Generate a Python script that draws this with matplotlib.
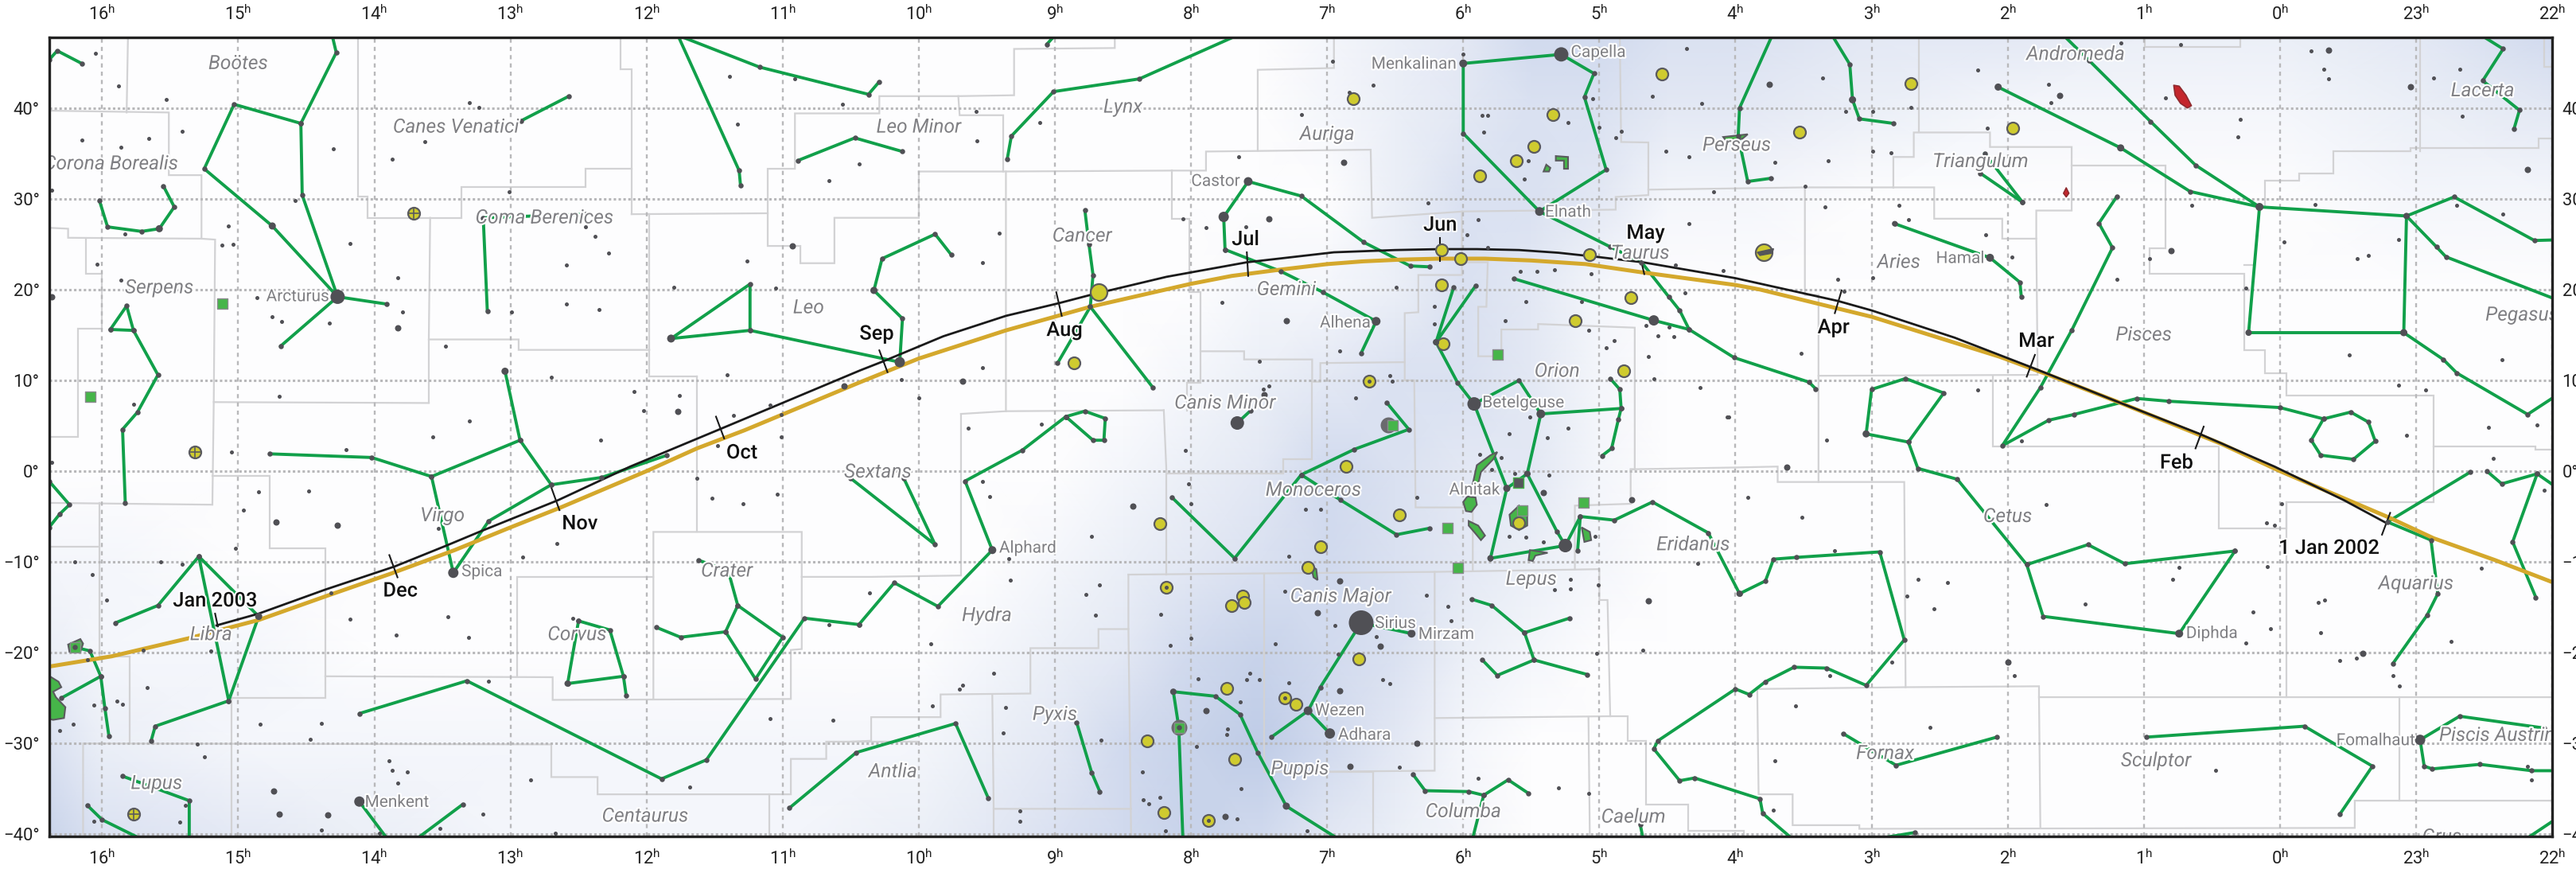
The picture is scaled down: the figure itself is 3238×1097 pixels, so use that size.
import matplotlib
matplotlib.use("Agg")
import matplotlib.pyplot as plt
import matplotlib.patheffects as pe
from matplotlib.colors import LinearSegmentedColormap
from matplotlib.patches import Polygon

plt.rcParams['font.family'] = ['Roboto', 'DejaVu Sans']
plt.rcParams['mathtext.fontset'] = 'custom'
plt.rcParams['mathtext.rm'] = 'Roboto'

# all positions are (RA hours, Dec degrees), RA below 0 means 23h, 22h
hour_ticks = [16, 15, 14, 13, 12, 11, 10, 9, 8, 7, 6, 5, 4, 3, 2, 1, 0, -1, -2]
hour_labels = ['16', '15', '14', '13', '12', '11', '10', '9', '8', '7', '6', '5', '4', '3', '2', '1', '0', '23', '22']
dec_ticks = [40, 30, 20, 10, 0, -10, -20, -30, -40]

# milky way brightness, coarse reading of the background
glow_ra = [16.39, 16, 15, 14, 13, 12, 11, 10, 9.5, 9, 8.5, 8, 7.5, 7, 6.5, 6, 5.5, 5, 4.5, 4, 3, 2, 1, 0, -1, -2]
glow_dec = [48, 40, 30, 20, 10, 0, -10, -20, -30, -41]
glow = [
    [0, 0, 0, 0, 0, 0, 0, 0, 0, 0, 0, 0, 0, 1, 2, 3, 5, 5, 4, 4, 3, 3, 2, 2, 3, 5],
    [0, 0, 0, 0, 0, 0, 0, 0, 0, 0, 0, 0, 0, 1, 2, 3, 4, 4, 3, 3, 2, 1, 1, 1, 2, 3],
    [0, 0, 0, 0, 0, 0, 0, 0, 0, 0, 0, 0, 0, 0, 2, 4, 4, 3, 1, 1, 0, 0, 0, 0, 1, 1],
    [0, 0, 0, 0, 0, 0, 0, 0, 0, 0, 0, 0, 1, 1, 2, 4, 3, 1, 0, 0, 0, 0, 0, 0, 0, 0],
    [0, 0, 0, 0, 0, 0, 0, 0, 0, 0, 0, 1, 2, 3, 4, 4, 3, 1, 0, 0, 0, 0, 0, 0, 0, 0],
    [0, 0, 0, 0, 0, 0, 0, 0, 0, 0, 1, 2, 3, 5, 4, 3, 3, 1, 0, 0, 0, 0, 0, 0, 0, 0],
    [1, 1, 0, 0, 0, 0, 0, 0, 0, 1, 2, 3, 4, 5, 4, 3, 2, 1, 0, 0, 0, 0, 0, 0, 0, 0],
    [2, 1, 1, 0, 0, 0, 0, 0, 1, 2, 3, 5, 6, 5, 4, 2, 1, 0, 0, 0, 0, 0, 0, 0, 0, 0],
    [4, 2, 1, 1, 1, 1, 1, 1, 2, 3, 5, 6, 7, 5, 3, 1, 0, 0, 0, 0, 0, 0, 0, 0, 0, 0],
    [6, 4, 3, 2, 1, 1, 1, 2, 3, 4, 5, 6, 5, 3, 2, 1, 0, 0, 0, 0, 0, 0, 0, 0, 0, 0],
]

# constellation figures
hercules = [[(16.39, 45.3), (16.33, 46.3), (16.15, 44.9)]]
bootes = [[(14.31, 48), (14.28, 46.1), (14.54, 38.3), (14.53, 30.4), (14.27, 19.2), (14.75, 27.0), (15.25, 33.3), (15.03, 40.4), (14.54, 38.3)],
          [(14.27, 19.2), (13.91, 18.4)], [(14.27, 19.2), (14.69, 13.75)]]
canes = [[(12.57, 41.3), (12.92, 38.6)]]
ursa_major = [[(11.77, 48), (11.17, 44.5), (10.37, 41.5), (10.29, 42.9)], [(11.77, 48), (11.32, 33.1), (11.31, 31.5)]]
leo_minor = [[(10.89, 34.2), (10.47, 36.7), (10.12, 35.2)]]
corona = [[(16.02, 29.8), (15.96, 26.9), (15.71, 26.4), (15.58, 26.7), (15.47, 29.1), (15.55, 31.4)]]
coma = [[(13.17, 17.6), (13.2, 27.9), (12.45, 28.3)]]
serpens = [[(15.94, 15.6), (15.82, 18.2), (15.77, 15.5), (15.94, 15.6)],
           [(15.77, 15.5), (15.59, 10.6), (15.74, 6.5), (15.85, 4.6), (15.83, -3.5)]]
leo = [[(11.82, 14.6), (11.24, 20.6), (11.24, 15.5), (11.82, 14.6)], [(11.24, 15.5), (10.14, 12.0)],
       [(10.14, 12.0), (10.12, 16.8), (10.33, 19.9), (10.27, 23.4), (9.88, 26.1), (9.76, 23.8)]]
virgo = [[(13.04, 11.0), (12.93, 3.4), (12.7, -1.5), (12.33, -0.7), (11.85, 1.75)],
         [(12.93, 3.4), (13.58, -0.6), (14.02, 1.5), (14.77, 1.9)], [(13.58, -0.6), (13.42, -11.2)],
         [(12.7, -1.5), (13.16, -5.5), (13.42, -11.2)]]
libra = [[(15.9, -16.7), (15.59, -14.8), (15.29, -9.4), (14.85, -16.0), (15.07, -25.3), (15.29, -9.4)],
         [(15.07, -25.3), (15.61, -28.1), (15.64, -29.7)]]
ophiuchus = [[(16.39, -1.1), (16.24, -3.7), (16.31, -4.7), (16.39, -6.2)]]
scorpius = [[(16.2, -19.4), (16.09, -19.8), (16.01, -22.6), (15.98, -26.1), (15.95, -29.2)], [(16.01, -22.6), (16.3, -25)]]
lupus = [[(15.85, -33.6), (15.36, -36.3), (15.36, -40.4)], [(16.11, -36.8), (16.0, -38.4), (15.73, -40.4)]]
centaurus = [[(14.11, -26.7), (13.32, -23.1), (11.89, -33.9), (11.56, -31.8), (10.84, -16.2), (10.44, -16.9)],
             [(14.11, -36.4), (13.91, -40.4)], [(13.35, -36.7), (13.68, -40.4)]]
hydra = [[(10.44, -16.9), (10.18, -12.3), (9.86, -14.9), (9.46, -8.7), (9.66, -1.1), (9.24, 2.3), (8.92, 6.0)],
         [(8.92, 6.0), (8.72, 3.4), (8.64, 3.4), (8.63, 5.8), (8.78, 6.6), (8.92, 6.0)]]
corvus = [[(12.5, -16.5), (12.27, -17.5), (12.17, -22.6), (12.58, -23.4), (12.5, -16.5)], [(12.17, -22.6), (12.15, -24.7)]]
crater = [[(11.62, -9.8), (11.4, -11), (11.33, -14.8), (11.42, -17.7), (11.2, -22.9), (11.0, -18.3), (11.33, -14.8)],
          [(11.42, -17.7), (11.75, -18.3), (11.93, -17.2)]]
antlia = [[(10.95, -37.1), (10.46, -31), (9.73, -27.8), (9.49, -36)]]
sextans = [[(10.5, -0.8), (9.88, -8.1), (10.11, -0.8)]]
lynx = [[(9.35, 34.4), (9.32, 36.9), (9.01, 41.8), (8.38, 43.2), (7.66, 48)], [(9.06, 47), (9.0, 48)]]
gemini = [[(7.75, 24.4), (7.76, 28.0), (7.58, 31.9), (7.19, 30.3), (6.73, 25.2), (6.39, 22.6), (6.25, 22.5)],
          [(7.75, 24.4), (7.34, 22.0), (7.03, 19.7), (6.64, 16.5), (6.75, 13.0)]]
cancer = [[(8.78, 28.75), (8.75, 25), (8.72, 21.6), (8.74, 18.1), (8.98, 11.9)], [(8.74, 18.1), (8.28, 9.2)]]
auriga = [[(6.0, 44.9), (5.28, 45.9), (5.04, 43.8), (5.11, 41.2), (4.95, 33.2), (5.44, 28.6), (6.0, 37.2), (6.0, 44.9)]]
taurus = [[(5.44, 28.6), (4.92, 24.7), (4.69, 23.0), (4.49, 19.2), (4.41, 17.7), (4.34, 15.6), (4.01, 12.5), (3.46, 9.8), (3.41, 9.06)],
          [(5.63, 21.2), (4.6, 16.6), (4.34, 15.6)]]
orion = [[(6.07, 20.25), (6.2, 14.2), (5.91, 20.4)], [(6.2, 14.2), (6.04, 9.7), (5.92, 7.4), (5.59, 10.0), (5.43, 6.3), (4.84, 6.9)],
         [(5.92, 7.4), (5.68, -1.9), (5.8, -9.6), (5.25, -8.2), (5.31, -6.7), (5.53, -0.3), (5.43, 6.3)], [(5.68, -1.9), (5.53, -0.3)],
         [(4.92, 10.2), (4.85, 9.0), (4.84, 6.9), (4.86, 5.7), (4.91, 2.5), (4.98, 1.7)]]
canis_minor = [[(7.66, 5.3), (7.56, 6.7)]]
monoceros = [[(6.56, 7.5), (6.4, 4.6), (6.8, 2.4), (7.19, -0.4), (7.68, -9.6), (8.14, -2.9)],
             [(7.19, -0.4), (6.9, -3.2), (6.49, -7.0), (6.25, -6.3)]]
canis_major = [[(6.38, -17.9), (6.75, -16.7), (7.05, -23.8), (7.14, -26.4), (6.98, -28.9)], [(7.14, -26.4), (7.41, -29.3)]]
puppis = [[(8.06, -40.4), (8.09, -28.2), (8.13, -24.3), (7.82, -24.8), (7.64, -26.8), (7.51, -31), (7.3, -36.9), (6.93, -40.4)]]
pyxis = [[(8.84, -27.7), (8.73, -33.2), (8.67, -35.3)]]
lepus = [[(5.94, -14.1), (5.79, -14.8), (5.55, -17.8), (5.22, -16.2)], [(5.55, -17.8), (5.48, -20.8), (5.75, -22.5), (5.86, -20.8)], [(5.48, -20.8), (5.09, -22.4)]]
columba = [[(6.37, -33.4), (6.28, -35.2), (5.96, -35.3), (5.85, -35.7), (5.67, -34), (5.52, -35.5)], [(5.85, -35.7), (5.93, -40.4)]]
caelum = [[(4.7, -38.9), (4.68, -40.4)]]
eridanus = [[(5.25, -8.2), (5.14, -5.0), (4.89, -5.4), (4.61, -3.4), (4.2, -6.8), (3.97, -13.5), (3.78, -12.1), (3.72, -9.7), (3.55, -9.5), (2.94, -8.9),
             (2.76, -18.6), (3.04, -23.6), (3.33, -21.7), (3.57, -21.6), (3.78, -23.2), (3.9, -24.6), (4.0, -24), (4.57, -29.7), (4.6, -30.6),
             (4.41, -34.1), (4.3, -33.8), (3.82, -36.1), (3.8, -37.7), (3.59, -40.4)],
            [(5.14, -5.0), (5.16, -8.8)], [(2.92, -40.4), (2.68, -39.8)]]
fornax = [[(3.21, -28.9), (2.82, -32.4), (2.08, -29.3)]]
sculptor = [[(0.98, -29.3), (-0.18, -28.1), (-0.68, -32.5), (-0.44, -37.8)]]
cetus = [[(0.33, -8.8), (1.14, -10.2), (1.41, -8.1), (1.86, -10.3), (1.74, -16.0), (0.74, -17.9), (0.33, -8.8)],
         [(1.86, -10.3), (2.37, -0.9), (2.66, 0.3), (2.73, 3.2), (3.04, 4.1), (3.0, 9.0), (2.75, 10.2), (2.47, 8.6), (2.73, 3.2)]]
pisces = [[(1.2, 30.2), (1.33, 27.3), (1.23, 24.6), (1.53, 15.5), (1.76, 9.2), (2.04, 2.8), (1.7, 5.6), (1.51, 6.25), (1.05, 8.0), (0.82, 7.7), (0.0, 7.0),
           (-0.32, 5.75), (-0.52, 6.5), (-0.65, 5.4), (-0.7, 3.3), (-0.54, 1.3), (-0.3, 1.75), (-0.23, 3.4), (-0.32, 5.75)]]
triangulum = [[(1.89, 29.6), (2.2, 32.8)], [(1.89, 29.6), (2.17, 35)]]
aries = [[(2.83, 27.25), (2.13, 23.5), (1.91, 20.8), (1.9, 19.2)]]
andromeda = [[(1.59, 48), (1.4, 45.2), (0.95, 38.5), (0.62, 33.7), (0.15, 29.1), (0.66, 30.8), (1.17, 35.6), (2.07, 42.3)]]
pegasus = [[(0.15, 29.1), (-0.93, 28.1), (-0.91, 15.25), (0.23, 15.25), (0.15, 29.1)], [(-0.93, 28.1), (-1.28, 30.2), (-1.87, 25.4), (-2.1, 25.5)],
           [(-0.93, 28.1), (-1.15, 24.7), (-1.22, 23.6), (-2.1, 18.5)], [(-0.91, 15.25), (-1.2, 12.3), (-1.3, 10.8), (-1.82, 6.25), (-2.1, 9)]]
lacerta = [[(-1.48, 48), (-1.64, 46.5), (-1.49, 43), (-1.76, 39.75), (-1.72, 37.7)]]
perseus = [[(3.73, 48), (3.97, 40), (3.98, 36.9), (3.91, 31.9), (3.74, 32.25)], [(3.29, 48), (3.16, 44.8), (3.14, 40.9), (3.09, 38.8), (2.84, 38.3)]]
aquarius = [[(-1.4, -0.1), (-0.79, -5.6), (-1.11, -7.6), (-1.16, -13.5), (-1.08, -15.9), (-0.83, -21.2)],
            [(-1.52, 0), (-1.63, -1.4), (-1.89, -0.3), (-1.71, -7.8), (-1.88, -13.9)], [(-1.89, -0.3), (-2.1, -2.5)]]
piscis = [[(-1.94, -28.3), (-1.32, -27), (-1.03, -29.6), (-1.06, -32.5), (-1.12, -32.8), (-1.47, -32.3), (-1.85, -33), (-2.1, -33)]]
grus = [[(-1.82, -40.4), (-2.1, -37.6)]]

figures = [hercules, bootes, canes, ursa_major, leo_minor, corona, coma, serpens, leo, virgo, libra, ophiuchus, scorpius,
           lupus, centaurus, hydra, corvus, crater, antlia, sextans, lynx, gemini, cancer, auriga, taurus, orion, canis_minor,
           monoceros, canis_major, puppis, pyxis, lepus, columba, caelum, eridanus, fornax, sculptor, cetus, pisces, triangulum,
           aries, andromeda, pegasus, lacerta, perseus, aquarius, piscis, grus]

# constellation boundaries
borders_west = [
    [(15.81, 48), (15.82, 39.5)],
    [(16.39, 39.7), (15.51, 39.5), (15.51, 32.6), (15.27, 32.6), (15.27, 25.6), (16.25, 25.7), (16.25, 26.7), (16.39, 26.8)],
    [(16.12, 25.6), (16.12, 21.7), (16, 21.7), (16, 15.7), (16.18, 15.7), (16.18, 3.75), (16.39, 3.75)],
    [(15.27, 25.6), (15.17, 25.5), (15.18, 7.6), (13.6, 7.5)],
    [(15.18, 7.6), (15.19, -3.7), (16.39, -3.5)],
    [(15.19, -0.5), (14.77, -0.5), (14.77, -8.5), (14.36, -8.5), (14.36, -25), (15.05, -25)],
    [(14.36, -22.6), (12.69, -22.7), (12.69, -25.2), (10.94, -25.1), (10.94, -19.7), (10.86, -19.6), (10.86, -6.7), (11.95, -6.7), (11.95, -25.1)],
    [(12.95, -22.6), (12.95, -11.65), (11.95, -11.65)],
    [(10.86, -11.65), (10.35, -11.65), (9.69, -11.5), (9.69, 6.3)],
    [(11.63, 10.4), (11.98, 10.4), (11.98, 28.3)],
    [(11.63, 10.4), (11.63, -6.7)],
    [(12.11, 28.3), (11.11, 28.4), (11.11, 24.8), (10.87, 24.8), (10.87, 22.9), (10.62, 22.9), (10.62, 27.9), (10.0, 27.9), (10.0, 33)],
    [(12.19, 48), (12.19, 44.3), (12.11, 44.3), (12.11, 28.3)],
    [(11.11, 28.4), (11.11, 33.3), (10.91, 33.3), (10.91, 39.4), (10.29, 39.4), (10.29, 41.3), (9.71, 41.3), (9.3, 41.4), (9.3, 46.5), (8.56, 46.6), (8.56, 48)],
    [(9.71, 41.3), (9.7, 39.2), (9.38, 39.2), (9.38, 33), (10.0, 33)],
    [(14.12, 48), (14.12, 30.2), (14.05, 30.2), (14.05, 27.9), (13.36, 27.9), (13.36, 31.3), (12.45, 31.3), (12.45, 33.3), (12.11, 33.3)],
    [(13.59, 27.9), (13.6, 14.5), (12.94, 14.5), (12.94, 13.35), (11.98, 13.35)],
    [(13.6, 14.5), (13.6, 7.5)],
    [(15.8, -20.4), (15.8, -29.9)], [(16.02, -3.5), (16.02, -20.4), (15.8, -20.4)], [(16.39, -8.3), (16.02, -8.3)],
    [(15.05, -25), (15.05, -40.4)],
    [(10.0, -29.8), (10.68, -29.8), (10.68, -31.7), (10.94, -31.7), (10.94, -35.6), (12.36, -35.6), (12.36, -33.7), (12.7, -33.7), (12.7, -30.1), (16.14, -30), (16.14, -40.4)],
    [(11.1, -35.6), (11.1, -40.4)],
]
borders_mid = [
    [(9.38, 33), (8.14, 33.1), (7.89, 33.1), (7.89, 35.2), (6.68, 35.4), (6.67, 27.9), (6.0, 28.6), (4.88, 28.8), (4.88, 30.2), (4.64, 30.4), (4.64, 36.2), (4.84, 36.25), (4.85, 48)],
    [(7.51, 35.3), (7.51, 44.2), (6.95, 44.4), (6.95, 48)],
    [(6.01, 28.6), (6.01, 21.6), (6.33, 21.6), (6.33, 17.5), (6.43, 17.4), (6.43, 10), (6.36, 10), (6.35, -4), (5.98, -4), (5.93, -3.8), (5.93, -10.9)],
    [(6.01, 23), (5.82, 23), (5.83, 18.1), (5.89, 18.1), (5.89, 12.65), (5.72, 12.65), (5.72, 15.6), (5.45, 15.6), (5.45, 16.2), (4.74, 15.8), (4.74, 0.2), (4.77, 0.2), (4.77, -3.6), (5.18, -3.8), (5.18, -10.8)],
    [(4.77, 0.2), (4.0, 0.4), (3.69, 0.5), (3.69, -1.2), (3.39, -1.2)],
    [(8.46, -11.4), (6.21, -11.1), (5.0, -10.8), (5.0, -14.2), (4.94, -14.2), (4.92, -27), (6.21, -27.2)],
    [(6.21, -11.1), (6.21, -33), (6.99, -33.1)],
    [(8.46, -11.4), (8.46, -17.4), (8.68, -17.4), (8.68, -19.5), (9.18, -19.5), (9.18, -24.5), (9.84, -24.6), (9.84, -27.1), (10.35, -27.1), (10.35, -29.7), (10.5, -29.8)],
    [(9.46, -24.6), (9.45, -37.2), (8.44, -37.2)], [(9.45, -37.2), (9.45, -40.4)], [(8.46, -17.4), (8.44, -40.4)],
    [(7.46, -11.3), (7.46, -33.1), (6.99, -33.1)],
    [(8.18, -11.4), (8.18, -0.3), (7.32, -0.3), (7.32, 1.3), (7.11, 1.3), (7.11, 9.85)],
    [(9.36, 33), (9.36, 6.6), (8.2, 6.7)], [(9.69, 6.3), (9.36, 6.6)], [(8.2, 6.7), (8.18, -0.3)],
    [(8.14, 33.1), (8.14, 27.8), (8.01, 27.8), (8.01, 19.7), (7.93, 19.7), (7.93, 9.7), (8.03, 9.7), (8.03, 6.7)],
    [(7.93, 13.2), (7.61, 13.2), (7.61, 12.3), (7.11, 12.3), (7.11, 9.85), (7.05, 9.85), (7.05, 11.9), (6.43, 12.0)],
    [(6.99, -33.1), (6.66, -33.1), (6.66, -40.4)], [(5.08, -27.1), (5.07, -40.4)],
    [(4.92, -27), (4.79, -27), (4.79, -29.7), (4.66, -29.7), (4.66, -36.7), (4.35, -36.7), (4.35, -39.6), (3.94, -39.6), (3.94, -40.4)],
]
borders_east = [
    [(4.64, 31), (3.5, 31.25), (2.54, 31.25), (2.54, 27.8), (2.04, 27.8), (2.04, 25.6), (1.79, 25.6), (1.79, 28.7), (1.53, 28.7), (1.53, 35.7), (2.13, 35.7), (2.13, 37.3), (2.69, 37.3), (2.69, 34.6), (2.84, 34.6), (2.84, 31.25)],
    [(2.65, 48), (2.65, 37.3)],
    [(1.53, 33.65), (0.84, 33.65), (0.84, 24.5), (0.96, 24.5), (0.96, 21.7), (0.26, 21.7), (0.26, 13.3), (0.11, 13.3), (0.11, 10.8), (-0.05, 10.8), (-0.05, 8.3), (-1.13, 8.3), (-1.13, -3.4), (-0.05, -3.4), (-0.05, -6.3), (0.45, -6.3), (0.45, 2.7), (2.11, 2.7), (2.11, 10.5)],
    [(0.26, 22.7), (0.2, 22.7)],
    [(3.39, 10.5), (1.78, 10.6), (1.79, 25.6)],
    [(3.49, 31.25), (3.49, 19.4), (3.39, 19.4), (3.39, -1.2), (2.76, -1.2), (2.75, -23.8), (3.84, -24), (3.83, -35.6), (3.58, -35.6), (3.58, -39), (3.09, -39), (3.09, -39.4), (-0.55, -39.3), (-0.55, -36.3), (-2.1, -36.3)],
    [(2.75, -23.8), (1.77, -23.7), (1.77, -24.9), (-2.1, -24.9)], [(1.77, -24.9), (1.76, -39.3)],
    [(-0.05, -3.4), (-0.05, -24.9)], [(-0.88, -24.9), (-0.88, -36.3)],
    [(-1.13, 2.7), (-1.88, 2.7), (-1.88, 2.4), (-2.1, 2.4)],
    [(-1.03, 48), (-1.03, 35.2)],
    [(-2.1, 36.6), (-1.9, 36.6), (-1.9, 35.6), (-0.96, 35.6), (-0.96, 35.2), (-0.39, 35.2), (-0.39, 32.8), (-0.14, 32.8), (-0.14, 32), (0.11, 32), (0.11, 29)],
    [(0.99, 48), (0.99, 46.7), (0.29, 46.7), (0.29, 48)],
    [(-1.94, 48), (-1.94, 44.5), (-2.1, 44.5)],
]
borders = borders_west + borders_mid + borders_east

ecliptic = [(16.5, -21.8), (15.93, -20.4), (15.36, -18.4), (14.85, -16.4), (14.36, -13.8), (13.88, -11.3), (13.41, -8.7), (13.0, -6.2), (12.63, -4), (12.0, 0), (11.63, 2.5),
            (11.28, 4.5), (10.43, 9.8), (10.0, 12.4), (9.36, 15.5), (8.74, 18.1), (8.01, 20.6), (7.7, 21.5), (7.34, 22.2), (7.0, 22.8), (6.74, 23.1), (6.45, 23.3), (6.17, 23.4), (5.84, 23.4), (5.5, 23.2), (5.1, 22.8), (4.69, 21.9),
            (4.0, 20.5), (3.82, 20), (3.0, 17), (2.06, 12.6), (1.7, 10.6), (1.17, 7.5), (0.43, 3), (0, 0), (-0.8, -5.1), (-1.13, -7.4), (-1.58, -9.8), (-2.1, -12.8)]
comet_path = [(15.16, -17), (14.85, -15.7), (14.36, -13.05), (13.85, -10.5), (13.47, -8.2), (13.23, -6.7), (12.65, -3.2), (12.12, 0.5), (11.48, 4.5), (10.43, 11.1), (10.26, 12.1),
              (9.82, 14.85), (9.36, 17.1), (8.97, 18.5), (8.74, 19.4), (8.18, 21.4), (7.59, 23), (6.95, 24.1), (6.5, 24.35), (6.17, 24.45), (5.9, 24.45), (5.59, 24.35), (5.3, 24.05), (5.02, 23.6), (4.68, 23), (4.0, 21.25),
              (3.25, 18.75), (3.0, 17.7), (2.39, 14.7), (1.82, 11.4), (1.17, 7.5), (0.59, 4.1), (0.04, 0.5), (-0.47, -3.2), (-0.78, -5.7)]

month_names = ['1 Jan 2002', 'Feb', 'Mar', 'Apr', 'May', 'Jun', 'Jul', 'Aug', 'Sep', 'Oct', 'Nov', 'Dec', 'Jan 2003']
month_ticks = [((-0.81, -4.6), (-0.75, -7)), ((0.56, 4.9), (0.62, 2.5)), ((1.8, 12.8), (1.86, 10.4)), ((3.22, 19.9), (3.27, 17.4)),
               ((4.7, 23.6), (4.67, 21.7)), ((6.17, 25.7), (6.17, 23.1)), ((7.59, 24.1), (7.58, 21.5)), ((8.99, 19.7), (8.95, 17.1)),
               ((10.29, 13.3), (10.23, 10.9)), ((11.49, 6), (11.43, 3.6)), ((12.7, -1.8), (12.64, -4.3)), ((13.89, -9.25), (13.83, -11.7)),
               ((15.17, -15.7), (15.15, -17.1))]
month_label_pos = [(-0.36, -8.5), (0.76, 0.9), (1.79, 14.3), (3.28, 15.8), (4.66, 26.2), (6.17, 27.1), (7.6, 25.5), (8.93, 15.5),
                   (10.31, 15.1), (11.3, 2), (12.49, -5.8), (13.81, -13.2), (15.17, -14.3)]

# loose stars, smallest class
faint_west = [(16.05, 46), (15.88, 42.4), (15.53, 40.9), (15.41, 37.4), (16.15, 36.5), (15.66, 36.6), (15.86, 35.7), (16.37, 30.9), (15.83, 26.1), (15.07, 27), (15.04, 25), (15.12, 24.9),
              (16.04, 22.8), (15.86, 21), (14.86, 19.1), (14.75, 17), (14.68, 16.5), (14.33, 16.3), (14.3, 35.5), (14.58, 29.8), (14.18, 25.1), (13.83, 21.3), (13.79, 17.5), (13.87, 34.4),
              (13.63, 36.3), (13.3, 40.6), (13.23, 40.1), (13.01, 30.8), (11.39, 43.5), (10.91, 43.2), (10.56, 40.4), (11.33, 38.2), (10.44, 33.8), (10.66, 32), (11.26, 23.1), (11.8, 20.25),
              (11.05, 20.2), (12.45, 26.9), (12.38, 25.9), (12.28, 24), (12.59, 22.7), (12.59, 18.4), (12.35, 17.8), (12.99, 17.5), (13.48, 13.8), (12.7, 10.3), (11.41, 10.6), (12.09, 8.8),
              (11.76, 8.3), (12.02, 6.7), (11.36, 6.1), (11.09, 7.3), (11.01, 6.25), (11.01, 3.75), (12.34, 3.4), (13.3, 5.5), (13.57, 3.75), (15.77, 7.4), (14.7, 8.2),
              (16.37, 1), (15.05, 2.1), (14.21, 2.4), (11.48, 2.8), (11.63, -0.8), (11.52, -3), (11.29, -3.6), (11.04, -2.5), (14.85, -2.3), (14.48, -2.2), (14.96, -4.3), (13.53, -6.3), (12.66, -8),
              (12.91, -9.5), (16.2, -10), (15.57, -10), (15.41, -10.3), (16.07, -11.4), (15.02, -8.5), (15.97, -14.2), (14.32, -13.4), (14.18, -16.3), (13.46, -16), (13.84, -18.1), (13.31, -18.3),
              (12.54, -16.2), (10.36, -13.4), (10.66, -16.9), (15.2, -19.8), (15.7, -19.7), (16.11, -20.8), (15.67, -23.8), (15.89, -25.3), (15.85, -25.7), (16.06, -25.8), (13.16, -23.1),
              (16.31, -28.6), (16.21, -27.9), (14.84, -27.9), (14.39, -27.8), (14.47, -29.5), (15.3, -30.1), (15.25, -31.5), (11.09, -27.3), (10.63, -27.4), (13.89, -31.9), (13.87, -33), (13.76, -33.1),
              (13.83, -34.4), (12.85, -34), (11.68, -34.8), (13.2, -37.8), (15.39, -36.8), (16.06, -38.6), (15.43, -38.7), (14.39, -39.5), (13.52, -39.4), (13.96, -39.9), (12.67, -39.9)]
faint_mid = [(9.58, 39.6), (9.11, 38.4), (9.57, 36.4), (6.66, 42.5), (6.96, 45.1), (7.19, 39.3), (6.84, 41.7), (6, 45.9), (4.61, 41.25), (4.36, 46.5), (4.25, 40.5), (5.05, 41), (5.86, 39.2), (5.82, 39.2),
             (5.23, 38.4), (5, 37.9), (4.84, 37.4), (4.88, 36.7), (5.85, 37.3), (4.51, 35.25), (4.34, 34.6), (5.55, 32.2), (5.52, 34.2), (7.65, 34.6), (4.16, 30.75), (7.6, 26.9), (7.89, 26.8), (8.06, 27.8),
             (6.26, 29.5), (5.89, 27.7), (5.97, 26), (4.34, 27.3), (9.41, 26.2), (9.53, 23), (6.49, 20.25), (6.21, 18.1), (6.21, 16.2), (5.82, 24.6), (5.58, 22), (5.46, 22), (5.33, 22.2), (5.06, 21.7),
             (4.44, 22.7), (4.09, 22.1), (4.37, 19.6), (5.54, 18.7), (5.13, 18.7), (5.69, 16.6), (5.08, 15.5), (4.57, 14.9), (4.45, 14.8), (4.89, 14.4), (4.95, 13.6), (4.66, 16), (4.49, 15.9), (4.64, 12.6),
             (7.77, 18.6), (6.91, 13.2), (7.5, 12.1), (9.53, 11.35), (10.13, 10.1), (10, 8.1), (9.64, 4.7), (9.1, 5.2), (7.47, 9), (7.43, 9.4), (6.54, 10.5), (6.52, 9.9), (6.79, 8.1), (4.6, 10.2), (4.26, 9.2),
             (5.51, 6), (4.06, 6), (5.66, 4.15), (5.38, 3.65), (5.23, 4.7), (8.04, 2.3), (5.88, 1.8), (5.72, 1.5), (5.79, 0.2), (5.62, -0.3), (5.37, -0.4), (9.53, -1.15), (9.48, -2.8), (8.02, -1.4), (8, -3.6),
             (6.34, -2.9), (7.16, -4.2), (7.05, -4.2), (5.66, -7.2), (5.54, -7.3), (5.41, -7.8), (5.03, -7.2), (8.73, -7.2), (9.34, -9.6), (7.28, -9.4), (4.28, -10.2), (9.33, -12), (8.67, -12.5), (8.77, -13.6),
             (7.31, -13.2), (6.27, -13.7), (5.21, -11.9), (5.21, -13), (5.33, -13.1), (5.01, -12.5), (6.11, -14.9), (6.09, -16.5), (8.7, -15.9), (8.22, -15.8), (6.94, -17), (6.64, -18.2), (8, -18.4), (7.38, -19),
             (9.91, -19), (8.15, -19.2), (6.92, -20.2), (4.68, -19.7), (5.02, -20.1), (9.45, -22.3), (7.95, -22.9), (7.57, -22.3), (7.59, -23), (7.5, -23), (7.28, -23.3), (6.59, -23), (6.54, -23.4), (9.68, -23.6),
             (9.7, -24), (9.9, -25.9), (9.36, -26), (7.64, -25.4), (7.73, -28.4), (7.74, -29), (9.38, -28.8), (8.66, -29.6), (7.96, -30.3), (6.47, -32.6), (8.36, -33.1), (7.63, -35), (5.89, -33.8), (5.3, -34.9),
             (5.08, -35.5), (9.26, -37.4), (9.26, -38.6), (8.23, -35.9), (8.35, -36.2), (8.31, -36.6), (7.66, -38.3), (8.19, -39.6), (7.15, -39.6)]
faint_east = [(3.36, 43.3), (2.71, 40.1), (2.99, 39.6), (3.19, 39.6), (2.22, 44.2), (1.7, 42.6), (1.68, 40.6), (1.17, 47.2), (0.73, 47), (0.84, 41.1), (-0.23, 46.3), (-0.32, 44.3), (-0.36, 43.25), (-1.32, 44.3),
              (-1.13, 43.3), (0.29, 38.7), (0.31, 36.8), (-1.34, 39.1), (2.15, 37.8), (2.99, 35.2), (2.86, 35.1), (3.71, 34), (3.32, 34.2), (3.49, 31.4), (3.34, 29.1), (2.8, 29.3), (2.73, 27.7), (0.65, 29.3),
              (-0.26, 29.4), (-1.3, 29.3), (-1.64, 28.3), (2.16, 26), (1.97, 23.6), (-0.03, 25.2), (-0.87, 25.5), (-0.57, 23.4), (-0.65, 23.75), (0.96, 23.4), (3.25, 21.1), (2.99, 21.3), (3.2, 19.8), (1.2, 21.1),
              (0.25, 20.2), (3.52, 13), (-0.51, 12.8), (-1.63, 12.3), (2.22, 8.9), (-0.87, 9.5), (-1.07, 8.9), (-1.53, 4.8), (-1.89, 5.1), (4.05, 6), (3.33, 3.4), (-0.93, 3.9), (1.9, 3.3), (3.91, -2.9), (3.51, -5.1),
              (1.72, -3.7), (-0.01, -3.6), (0.1, -5.7), (0.04, -6), (-1.57, 1.4), (-1.94, -2.1), (-1.48, -10.7), (3.27, -8.8), (2.66, -11.9), (2.44, -12.3), (2.74, -13.8), (2.54, -15.2), (0.74, -10.6), (0.79, -11.9),
              (0.09, -10.5), (1.43, -14.6), (0.2, -15.5), (-0.33, -14.2), (-0.28, -14.5), (0.07, -17.4), (-0.3, -17.8), (0.25, -18.9), (-1.26, -18.8), (2.85, -21), (3.31, -22.5), (1.95, -22.5), (-0.56, -20.6),
              (-0.44, -20.9), (-0.83, -22.5), (-0.88, -23.7), (3.56, -25.9), (2.57, -28.2), (3.71, -31.9), (3.72, -37.3), (0.47, -33), (-1.82, -32.5), (-1.85, -34)]
# a bit bigger loose stars
medium_stars = [(16.37, 19.2), (13.83, 15.8), (10.93, 24.8), (11.77, 6.6), (10.55, 9.4), (14.72, -5.6), (14.27, -6), (14.74, -35.2), (14.7, -37.8), (14.34, -37.9), (6.88, 34), (7.43, 27.8), (7.3, 16.6),
                (9.68, 9.9), (7.46, 8.4), (8.43, -3.9), (5.41, -2.4), (4.76, -3.2), (6.91, -12.1), (4.64, -14.3), (7.07, -15.6), (6.61, -19.3), (6.91, -24.2), (7.89, -26.4), (6.34, -30), (6.83, -32.5),
                (7.75, -38), (3.75, 42.6), (1.62, 41.4), (-0.36, 46.4), (-0.96, 42.3), (-1.82, 33.2), (0.8, 24.3), (3.62, 0.4), (2, -21), (-0.61, -20.1)]
# stars on the figures that are drawn larger: ra, dec, diameter in px
bright_ra = [6.75, 14.27, 5.28, 5.92, 5.25, 7.66, 7.58, 7.76, 6.0, 5.44, 4.6, 6.64, 10.14, 13.42, 9.46, 6.98, 7.14, 6.38, 5.43, 0.74, -1.03, 2.13, 14.11, 0.15, 5.68, 11.82, 10.33, 1.17, 2.07, -0.93, -0.91, 0.23, 3.14, 5.8, 3.04, 3.97, 7.3, 8.13, 5.53, 6.2, 14.75, 14.85, 13.04, 15.58, 12.58, 2.83]
bright_dec = [-16.7, 19.2, 45.9, 7.4, -8.2, 5.3, 31.9, 28, 44.9, 28.6, 16.6, 16.5, 12, -11.2, -8.7, -28.9, -26.4, -17.9, 6.3, -17.9, -29.6, 23.5, -36.4, 29.1, -1.9, 14.6, 19.9, 35.6, 42.3, 28.1, 15.25, 15.25, 40.9, -9.6, 4.1, -13.5, -36.9, -24.3, -0.3, 14.2, 27, -16, 11, 26.7, -23.4, 27.25]
bright_size = [31, 18, 18, 17, 17, 17, 11, 13, 10, 11, 13, 11, 13, 13, 10, 13, 11, 10, 11, 10, 13, 10, 13, 10, 9, 10, 9, 9, 9, 8, 9, 8, 9, 8, 9, 8, 9, 8, 8, 8, 9, 9, 9, 9, 8, 7]

open_clusters = [(6.81, 41), (5.34, 39.3), (4.54, 43.75), (5.48, 35.8), (5.61, 34.2), (5.88, 32.5), (6.16, 24.4), (6.02, 23.4), (6.16, 20.5), (6.15, 14), (5.07, 23.8), (4.77, 19.1), (5.18, 16.6), (4.82, 11),
                 (8.86, 11.9), (6.69, 9.9), (6.86, 0.5), (6.47, -4.8), (8.23, -5.8), (7.05, -8.3), (7.14, -10.6), (8.18, -12.8), (7.62, -13.8), (7.61, -14.5), (7.7, -14.8), (6.77, -20.7), (7.74, -23.9), (7.31, -25),
                 (7.23, -25.7), (8.32, -29.7), (7.68, -31.7), (8.2, -37.6), (7.87, -38.5), (2.71, 42.7), (3.53, 37.3), (1.96, 37.8), (5.59, -5.7)]
big_clusters = [(8.68, 19.7), (3.79, 24.1)]
cluster_core_stars = [(6.69, 9.9), (8.18, -12.8), (7.31, -25), (7.87, -38.5)]
globulars = [(13.71, 28.4), (15.32, 2.1), (15.77, -37.8)]
small_nebulae = [(15.12, 18.5), (16.09, 8.2), (5.75, 12.9), (6.52, 5.1), (6.12, -6.2), (6.04, -10.6), (5.12, -3.4), (8.09, -28.2), (5.57, -4.3), (16.2, -19.4)]
ringed_nebulae = [(6.55, 5.1), (8.09, -28.2)]
dark_squares = [(5.6, -1.2)]

# irregular nebula outlines
loop_neb = [(5.93, -1.4), (5.9, 0.65), (5.8, 1.75), (5.75, 2.1), (5.78, 1.3), (5.87, -0.1), (5.89, -1.4)]
m78_neb = [(5.97, -2.8), (5.91, -2.9), (5.9, -3.7), (5.94, -4.5), (5.98, -4.4), (6.0, -3.4)]
flame_neb = [(5.96, -5.5), (5.89, -6), (5.84, -7.1), (5.87, -7.6), (5.92, -6.7), (5.96, -6)]
m42_neb = [(5.59, -3.8), (5.53, -4.8), (5.53, -6), (5.59, -6.5), (5.65, -6), (5.66, -4.8)]
rigel_neb = [(5.13, -6.2), (5.07, -6.7), (5.06, -7.6), (5.11, -7.8), (5.12, -7)]
lepus_neb = [(5.51, -8.7), (5.38, -9), (5.47, -9.3), (5.49, -9.9), (5.52, -9.8)]
thin_neb = [(7.12, -10.4), (7.08, -10.8), (7.07, -12), (7.1, -11.7)]
auriga_neb_a = [(5.32, 34.7), (5.23, 34.6), (5.23, 33.3), (5.26, 33.3), (5.26, 34.2), (5.32, 34.2)]
auriga_neb_b = [(5.39, 33.75), (5.36, 33.4), (5.37, 33), (5.41, 33)]
perseus_neb = [(4.09, 36.8), (3.91, 37.1), (3.95, 36.6), (4.07, 36.4)]
edge_neb = [(16.45, -22), (16.32, -23.2), (16.3, -23.8), (16.36, -24.3), (16.34, -24.9), (16.27, -26), (16.28, -27.2), (16.36, -27.4), (16.45, -27.1)]
rho_neb = [(16.25, -19.1), (16.16, -18.5), (16.14, -19), (16.16, -19.9), (16.24, -19.9)]
nebulae = [loop_neb, m78_neb, flame_neb, m42_neb, rigel_neb, lepus_neb, thin_neb, auriga_neb_a, auriga_neb_b, perseus_neb, edge_neb, rho_neb]

pleiades_blob = [(3.84, 24.1), (3.72, 24.5), (3.73, 24.0), (3.82, 23.75)]
andromeda_gal = [(0.78, 42.5), (0.74, 42.4), (0.69, 41.4), (0.65, 40.25), (0.68, 40), (0.73, 40.5), (0.77, 41.4)]
triangulum_gal = [(1.57, 31.2), (1.55, 30.6), (1.57, 30.2), (1.59, 30.6)]

const_names = ['Boötes', 'Canes Venatici', 'Coma Berenices', 'Serpens', 'Leo', 'Leo Minor', 'Lynx', 'Auriga', 'Cancer', 'Gemini', 'Perseus', 'Taurus', 'Orion',
               'Canis Minor', 'Monoceros', 'Sextans', 'Virgo', 'Crater', 'Corvus', 'Libra', 'Hydra', 'Canis Major', 'Lepus', 'Eridanus', 'Antlia', 'Pyxis', 'Puppis',
               'Columba', 'Caelum', 'Centaurus', 'Lupus', 'Andromeda', 'Triangulum', 'Aries', 'Pisces', 'Lacerta', 'Cetus', 'Aquarius', 'Fornax', 'Sculptor', 'Grus']
const_pos = [(15, 44.9), (13.4, 37.9), (12.75, 27.9), (15.58, 20.2), (10.81, 18), (10, 37.9), (8.5, 40.1), (7, 37.1), (8.8, 25.9), (7.3, 20), (3.99, 35.9), (4.7, 24), (5.31, 11),
             (7.75, 7.5), (7.1, -2.1), (10.3, -0.1), (13.5, -4.9), (11.41, -11), (12.51, -18), (15.2, -18), (9.5, -15.9), (6.9, -13.8), (5.5, -11.9), (4.31, -8.1), (10.19, -33.1), (9, -26.8), (7.2, -32.8),
             (6, -37.5), (4.75, -38.1), (12.01, -38), (15.6, -34.4), (1.5, 45.9), (2.2, 34.1), (2.8, 23), (1, 15), (-1.49, 41.9), (2, -5), (-1, -12.4), (2.9, -31.1), (0.91, -31.9), (-1.19, -40.3)]
# these three run past the frame and are cut by it
edge_names = ['Corona Borealis', 'Pegasus', 'Piscis Austrinus']
edge_pos = [(15.44, 33.85), (-1.51, 17.2), (-1.17, -29.1)]
edge_align = ['right', 'left', 'left']

star_names_left = ['Capella', 'Elnath', 'Betelgeuse', 'Alphard', 'Spica', 'Sirius', 'Mirzam', 'Wezen', 'Adhara', 'Menkent', 'Diphda']
star_pos_left = [(5.21, 46.1), (5.4, 28.5), (5.86, 7.5), (9.41, -8.5), (13.36, -11.1), (6.65, -16.8), (6.33, -18), (7.09, -26.4), (6.92, -29.1), (14.07, -36.5), (0.69, -17.9)]
star_names_right = ['Arcturus', 'Menkalinan', 'Castor', 'Alhena', 'Alnitak', 'Hamal', 'Fomalhaut']
star_pos_right = [(14.33, 19.2), (6.05, 44.8), (7.64, 31.9), (6.68, 16.3), (5.73, -2.1), (2.17, 23.4), (-0.995, -29.7)]


def px_size(d):
    # marker area in points^2 from a diameter in pixels at dpi 100
    return (d * 0.72) ** 2


def xs(points):
    return [p[0] for p in points]


def ys(points):
    return [p[1] for p in points]


GRAY_STAR = '#505055'
GREEN = '#11a04a'
NEB_GREEN = '#46b549'
YELLOW = '#cfcb2f'
LABEL_GRAY = '#808084'
halo = [pe.withStroke(linewidth=3, foreground='white')]

fig = plt.figure(figsize=(32.38, 10.97), dpi=100)
ax = fig.add_axes([62 / 3238, 1 - 1050.6 / 1097, (3208 - 62) / 3238, (1050.6 - 47) / 1097])

cmap = LinearSegmentedColormap.from_list('glow', ['#fdfdfe', '#b2c1e2'])
ax.pcolormesh(glow_ra, glow_dec, glow, shading='gouraud', cmap=cmap, vmin=0, vmax=8.5, zorder=0, rasterized=True)

for line in borders:
    ax.plot(xs(line), ys(line), color='#d2d2d4', lw=1.6, zorder=1, solid_joinstyle='miter')

for h in hour_ticks:
    ax.axvline(h, color='#b8b8ba', lw=1.7, ls=(0, (2.2, 2.2)), zorder=2)
for d in dec_ticks:
    ax.axhline(d, color='#b8b8ba', lw=2.2, ls=(0, (1, 1)), zorder=2)

for fig_lines in figures:
    for line in fig_lines:
        ax.plot(xs(line), ys(line), color=GREEN, lw=2.8, zorder=3, solid_capstyle='round')
        ax.scatter(xs(line), ys(line), s=px_size(6.5), color=GRAY_STAR, linewidths=0, zorder=5)

for shape in nebulae:
    ax.add_patch(Polygon(shape, closed=True, facecolor=NEB_GREEN, edgecolor='#5a5a5e', lw=1.5, zorder=4))
for shape in [andromeda_gal, triangulum_gal]:
    ax.add_patch(Polygon(shape, closed=True, facecolor='#c4262c', edgecolor='#8e2a2e', lw=1.2, zorder=4, joinstyle='round'))

ax.plot(xs(ecliptic), ys(ecliptic), color='#d4a82c', lw=3.6, zorder=4.2)
ax.plot(xs(comet_path), ys(comet_path), color='#1a1a1a', lw=2.0, zorder=4.4)
for tick in month_ticks:
    ax.plot(xs(tick), ys(tick), color='#1a1a1a', lw=1.5, zorder=4.5)

loose = faint_west + faint_mid + faint_east
ax.scatter(xs(loose), ys(loose), s=px_size(5), color=GRAY_STAR, linewidths=0, zorder=5)
ax.scatter(xs(medium_stars), ys(medium_stars), s=px_size(8), color=GRAY_STAR, linewidths=0, zorder=5)
ax.scatter(bright_ra, bright_dec, s=[px_size(b) for b in bright_size], color=GRAY_STAR, linewidths=0, zorder=5.5)

ax.scatter(xs(ringed_nebulae), ys(ringed_nebulae), s=px_size(20), color='#6a6a6e', linewidths=0, zorder=4.7)
ax.scatter(xs(open_clusters), ys(open_clusters), s=px_size(15), facecolor=YELLOW, edgecolor='#5a5a5e', linewidths=1.6, zorder=4.8)
ax.scatter(xs(big_clusters), ys(big_clusters), s=px_size(21), facecolor=YELLOW, edgecolor='#5a5a5e', linewidths=1.6, zorder=4.8)
ax.add_patch(Polygon(pleiades_blob, closed=True, facecolor='#55555a', edgecolor='#55555a', lw=1, zorder=4.85))
ax.scatter(xs(cluster_core_stars), ys(cluster_core_stars), s=px_size(5), color=GRAY_STAR, linewidths=0, zorder=4.85)
ax.scatter(xs(globulars), ys(globulars), s=px_size(15), facecolor=YELLOW, edgecolor='#5a5a5e', linewidths=1.6, zorder=4.8)
ax.scatter(xs(globulars), ys(globulars), s=px_size(13), marker='+', color='#5a5a5e', linewidths=1.2, zorder=4.9)
ax.scatter(xs(small_nebulae), ys(small_nebulae), s=px_size(13), marker='s', facecolor=NEB_GREEN, edgecolor='#8a8a8e', linewidths=1.0, zorder=4.9)
ax.scatter(xs(dark_squares), ys(dark_squares), s=px_size(13), marker='s', facecolor='#55555a', edgecolor=NEB_GREEN, linewidths=1.0, zorder=4.9)

for name, pos in zip(const_names, const_pos):
    ax.text(pos[0], pos[1], name, style='italic', fontsize=17.7, color=LABEL_GRAY, ha='center', va='center',
            path_effects=halo, zorder=7, clip_on=True)
for name, pos, al in zip(edge_names, edge_pos, edge_align):
    ax.text(pos[0], pos[1], name, style='italic', fontsize=17.7, color=LABEL_GRAY, ha=al, va='center',
            path_effects=halo, zorder=7, clip_on=True)
for name, pos in zip(star_names_left, star_pos_left):
    ax.text(pos[0], pos[1], name, fontsize=15, color=LABEL_GRAY, ha='left', va='center', path_effects=halo, zorder=7)
for name, pos in zip(star_names_right, star_pos_right):
    ax.text(pos[0], pos[1], name, fontsize=15, color=LABEL_GRAY, ha='right', va='center', path_effects=halo, zorder=7)
for name, pos in zip(month_names, month_label_pos):
    ax.text(pos[0], pos[1], name, fontsize=18.3, fontweight='medium', color='#111111', ha='center', va='center', path_effects=halo, zorder=8)

ax.set_xlim(16.388, -2)
ax.set_ylim(-40.2, 47.77)
ax.set_xticks(hour_ticks)
ax.set_xticklabels(['%s$^{\\mathrm{h}}$' % h for h in hour_labels])
ax.set_yticks(dec_ticks)
ax.set_yticklabels(['%d°' % d if d >= 0 else '\u2212%d°' % -d for d in dec_ticks])
ax.tick_params(axis='both', length=0, labelsize=15.8, labelcolor='#222222', labeltop=True, labelbottom=True, labelleft=True, labelright=True)
ax.tick_params(axis='x', pad=12)
ax.tick_params(axis='y', pad=9)
for side in ax.spines.values():
    side.set_linewidth(2.4)
    side.set_color('#222222')
    side.set_zorder(9)

fig.savefig('out.png', dpi=100, facecolor='white')
